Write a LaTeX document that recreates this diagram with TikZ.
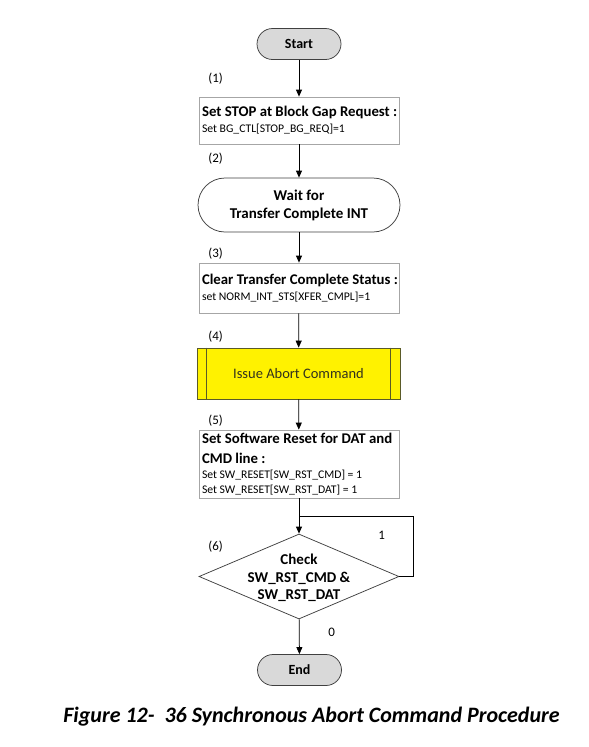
\documentclass[tikz,border=0pt]{standalone}
\usepackage{fontspec}
\setmainfont{Carlito}
\usetikzlibrary{shapes.geometric,arrows.meta}
\definecolor{boxline}{RGB}{166,166,166}
\definecolor{termfill}{RGB}{217,217,217}
\definecolor{termline}{RGB}{64,64,64}
\definecolor{abortline}{RGB}{90,90,40}
\definecolor{aborttext}{RGB}{50,50,30}
\tikzset{every picture/.style={line width=0.75pt}}
\newcommand{\regtxt}[1]{\mbox{\fontsize{11.7}{13}\selectfont\spaceskip=0pt\xspaceskip=0pt #1}}
\newcommand{\headtxt}[1]{\mbox{\bfseries\spaceskip=0pt\xspaceskip=0pt #1}}
\tikzset{
  terminal/.style={draw=termline,fill=termfill,rounded corners=15.5pt,minimum width=84pt,minimum height=31pt,inner sep=0pt,font=\fontsize{14}{16}\selectfont\bfseries},
  stepbox/.style={draw=boxline,minimum width=200pt,inner sep=3pt,align=left,text width=194pt,font=\fontsize{14.8}{18}\selectfont},
  flow/.style={-{Triangle[length=7pt,width=6pt]}},
  numlabel/.style={anchor=west,inner sep=0pt,font=\fontsize{13}{15}\selectfont}
}
\begin{document}
\begin{tikzpicture}[x=1pt,y=1pt,yscale=-1,xscale=1]
\useasboundingbox (0,0) rectangle (589,747);
%Shape: Terminal [id:start]
\node [terminal] (start) at (299,44) {Start};
%Shape: Rectangle [id:stopreq]
\node [stepbox,minimum height=47pt] (stopreq) at (299,120.5) {\headtxt{Set STOP at Block Gap Request :}\\[-2pt]\regtxt{Set BG\_CTL[STOP\_BG\_REQ]=1}};
%Shape: Terminal [id:wait]
\node [draw=termline,fill=white,rounded corners=27pt,minimum width=202pt,minimum height=54pt,align=center,font=\fontsize{15}{18}\selectfont\bfseries] (wait) at (299,205) {Wait for\\Transfer Complete INT};
%Shape: Rectangle [id:clrsts]
\node [stepbox,minimum height=50pt] (clrsts) at (299,288) {\headtxt{Clear Transfer Complete Status :}\\[-2pt]\regtxt{set NORM\_INT\_STS[XFER\_CMPL]=1}};
%Shape: Predefined Process [id:abort]
\node [draw=abortline,fill=yellow,minimum width=203pt,minimum height=51pt,inner sep=0pt,text=aborttext,font=\fontsize{14.5}{16}\selectfont] (abort) at (298.5,373.5) {Issue Abort Command};
\draw [abortline] ([xshift=10pt]abort.north west) -- ([xshift=10pt]abort.south west);
\draw [abortline] ([xshift=-10pt]abort.north east) -- ([xshift=-10pt]abort.south east);
%Shape: Rectangle [id:swrst]
\node [stepbox,minimum height=68pt] (swrst) at (299,464) {\headtxt{Set Software Reset for DAT and}\\[2pt]\headtxt{CMD line :}\\[-3pt]\regtxt{Set SW\_RESET[SW\_RST\_CMD] = 1}\\[-3pt]\regtxt{Set SW\_RESET[SW\_RST\_DAT] = 1}};
%Shape: Diamond [id:check]
\node [diamond,draw=termline,minimum width=200pt,minimum height=85pt,inner sep=0pt] (check) at (299,576.5) {};
\node [align=center,font=\fontsize{15}{17.5}\selectfont\bfseries] (checktxt) at (299,578) {Check\\SW\_RST\_CMD \&\\SW\_RST\_DAT};
%Shape: Terminal [id:end]
\node [terminal] (end) at (299.5,670) {End};
\coordinate (join) at (299,516);
\coordinate (loopc) at (413,516);

%Straight Lines
\draw [flow] (start) -- (stopreq);
\draw [flow] (stopreq) -- (wait);
\draw [flow] (wait) -- (clrsts);
\draw [flow] (clrsts) -- (abort);
\draw [flow] (abort) -- (swrst);
\draw (swrst) -- (join);
\draw [flow] (join) -- (check);
\draw (check.east) -| (loopc) -- (join);
\draw [flow] (check) -- (end);

% Text Node
\node [numlabel] (n1) at (208,79) {(1)};
% Text Node
\node [numlabel] (n2) at (208,159) {(2)};
% Text Node
\node [numlabel] (n3) at (208,254) {(3)};
% Text Node
\node [numlabel] (n4) at (208,337) {(4)};
% Text Node
\node [numlabel] (n5) at (208,421) {(5)};
% Text Node
\node [numlabel] (n6) at (208,547) {(6)};
% Text Node
\node [numlabel] (yes) at (378,535) {1};
% Text Node
\node [numlabel] (no) at (328,632) {0};
% Text Node
\node [font=\fontsize{22}{26}\selectfont\bfseries\itshape] (caption) at (311.5,717) {Figure 12-\ \ 36 Synchronous Abort Command Procedure};
\end{tikzpicture}
\end{document}
